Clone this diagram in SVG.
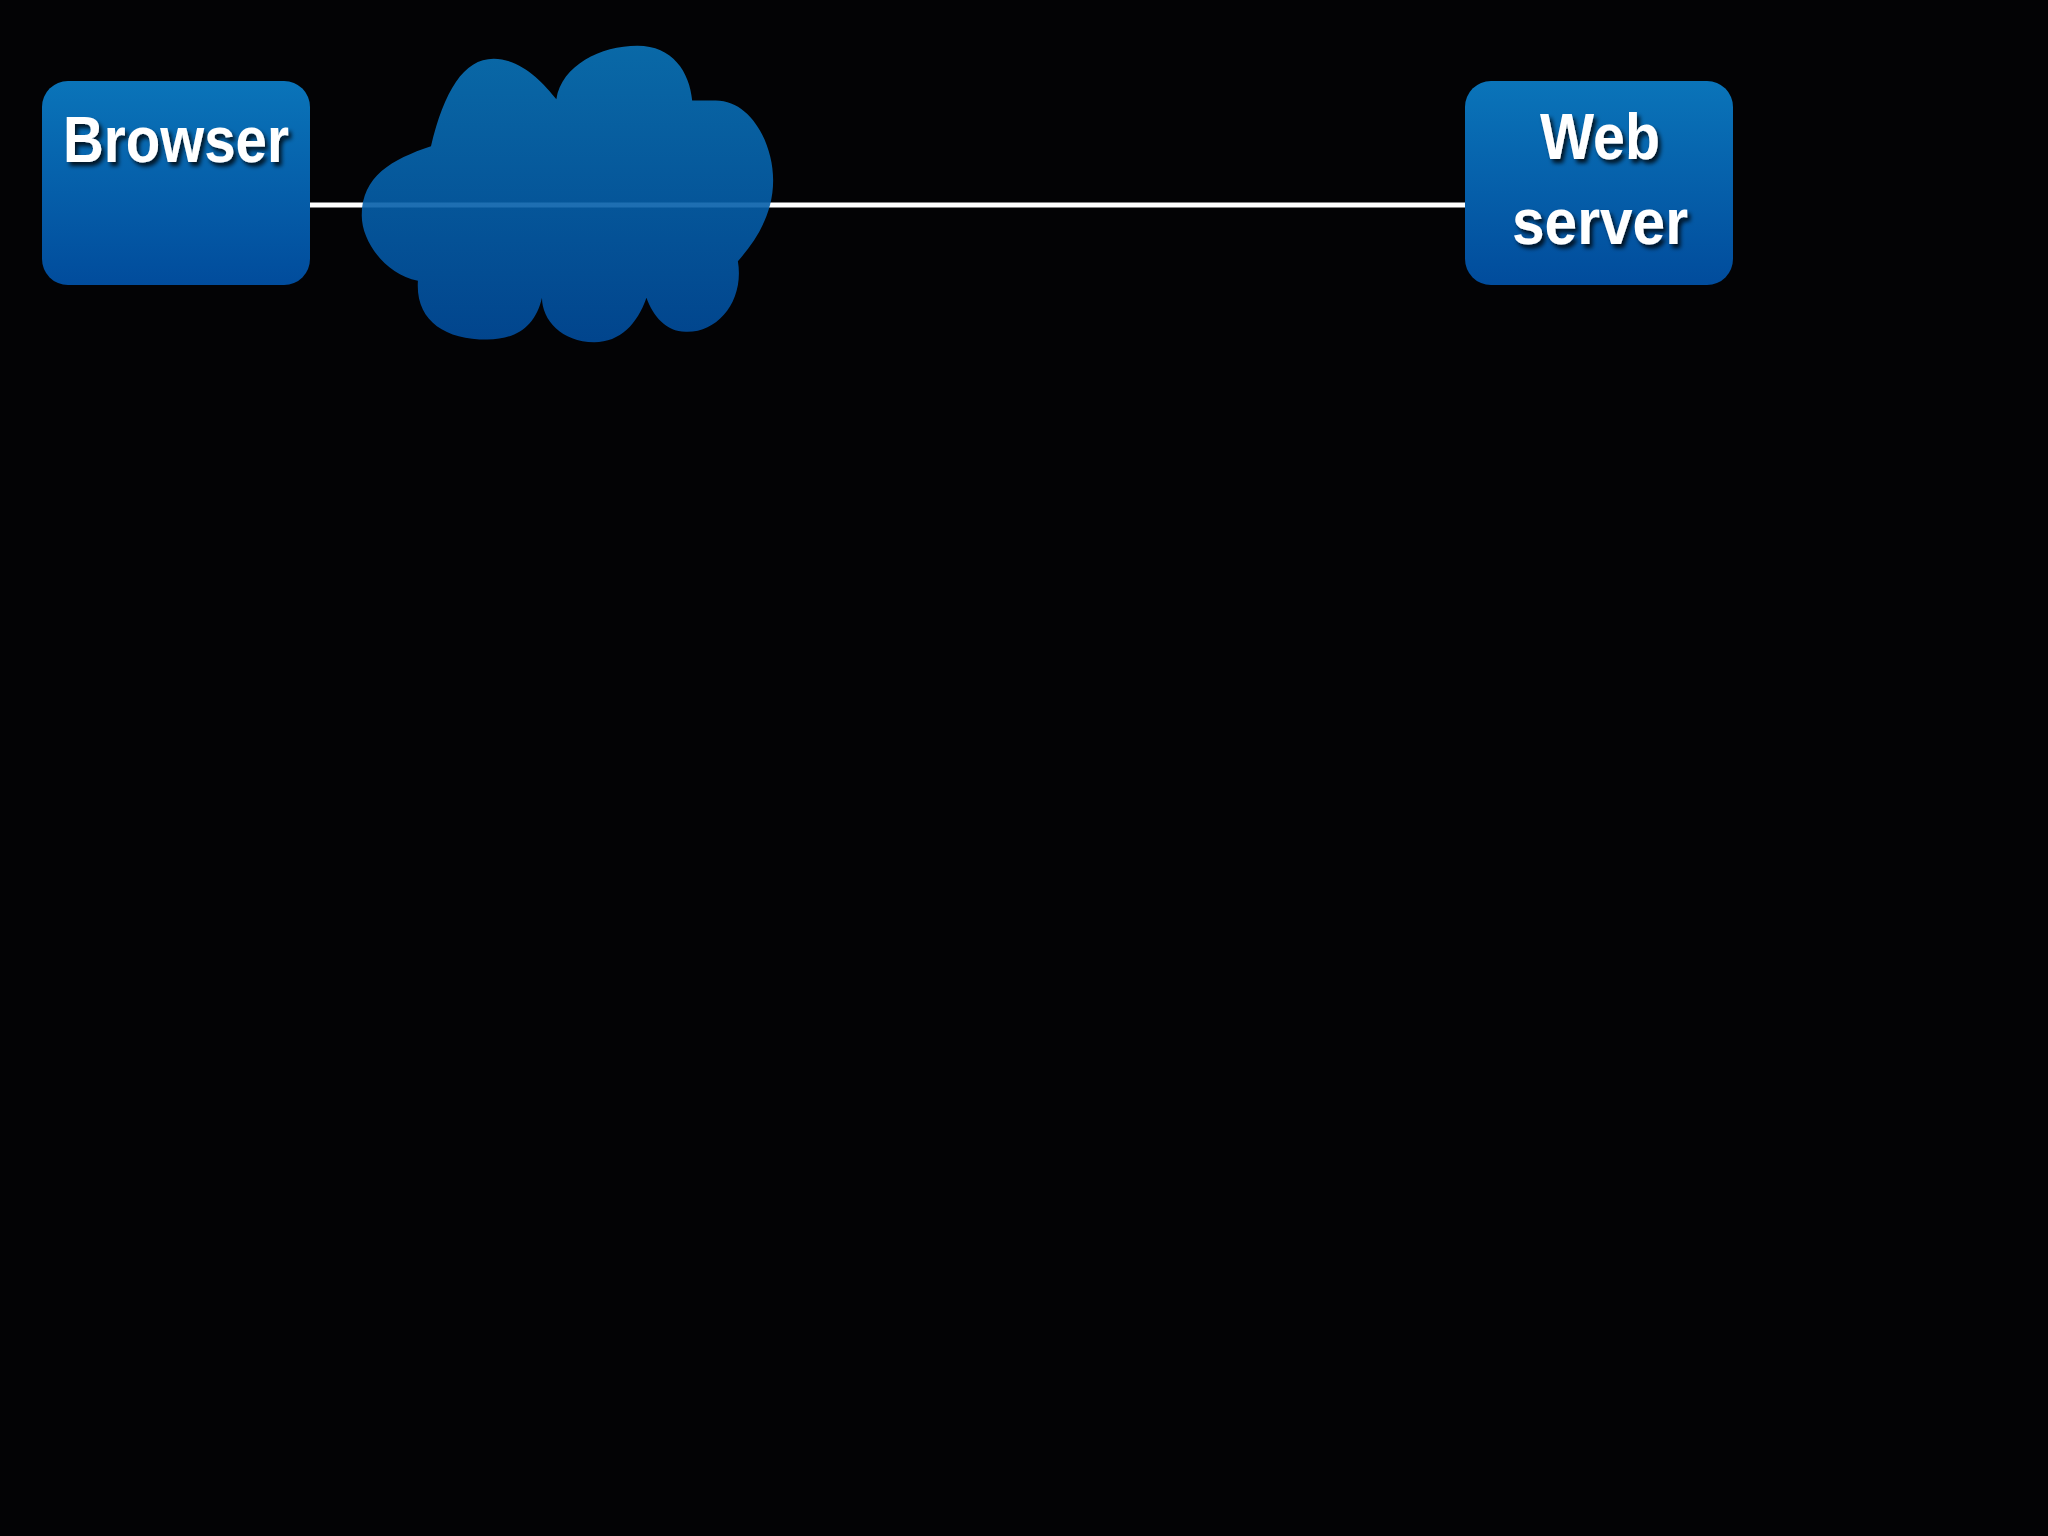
<svg xmlns="http://www.w3.org/2000/svg" width="2048" height="1536" viewBox="0 0 2048 1536">
<defs>
<linearGradient id="g" x1="0" y1="0" x2="0" y2="1"><stop offset="0" stop-color="#0a74b9"/><stop offset="1" stop-color="#014c9c"/></linearGradient>
<filter id="sh" x="-10%" y="-10%" width="130%" height="140%"><feDropShadow dx="3" dy="4" stdDeviation="2" flood-color="#000" flood-opacity="0.8"/></filter>
</defs>
<style>
.box{fill:url(#g)}
.t{font-family:"Liberation Sans",Arial,sans-serif;font-weight:bold;font-size:64px;fill:#fff;text-anchor:middle;filter:url(#sh)}
</style>
<rect width="2048" height="1536" fill="#030305"/>
<g id="connectors">
<line x1="310" y1="205" x2="1465" y2="205" stroke="#fff" stroke-width="5"/>
</g>
<g id="browser">
<rect class="box" x="42" y="81" width="268" height="204" rx="26"/>
<text class="t" x="176" y="162" textLength="226" lengthAdjust="spacingAndGlyphs">Browser</text>
</g>
<g id="webserver">
<rect class="box" x="1465" y="81" width="268" height="204" rx="26"/>
<text class="t" x="1600" y="159" textLength="120" lengthAdjust="spacingAndGlyphs">Web</text>
<text class="t" x="1600" y="244" textLength="176" lengthAdjust="spacingAndGlyphs">server</text>
</g>
<g id="cloud" transform="scale(1.306)">
<path fill="url(#g)" opacity="0.9" d="M330,112 C340,70 355,45 378,45 C398,45 415,62 426,76 C430,50 460,35 488,35 C515,35 528,55 530,77 L548,77 C575,77 592,110 592,138 C592,165 578,185 565,200 C570,230 550,255 525,254 C510,254 500,242 495,228 C488,248 475,262 455,262 C430,262 415,245 415,228 C410,250 395,260 373,260 C340,260 318,245 320,215 C295,210 277,185 277,165 C277,135 300,122 330,112 Z"/>
</g>
</svg>
